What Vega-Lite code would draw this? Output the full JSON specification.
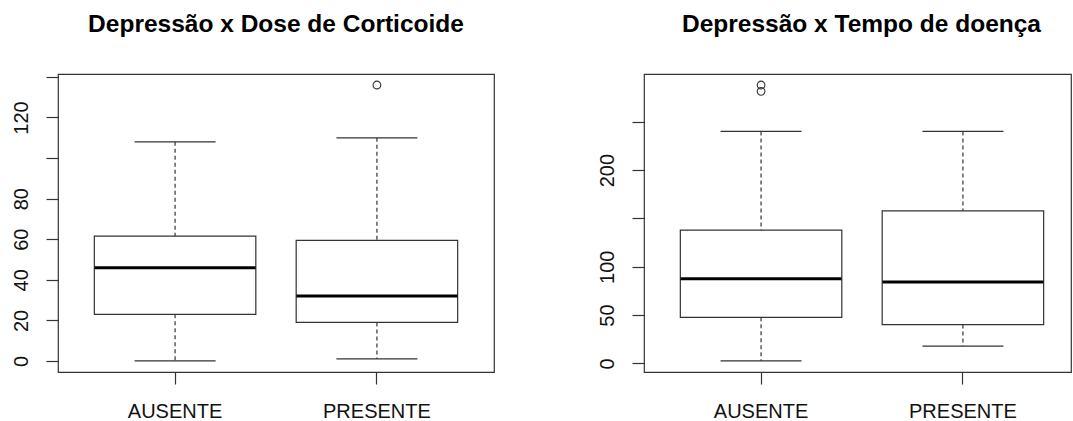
{
  "$schema": "https://vega.github.io/schema/vega-lite/v6.json",
  "padding": {"left": 10, "top": 10, "right": 0, "bottom": 0},
  "background": "white",
  "spacing": 101,
  "config": {
    "font": "Liberation Sans",
    "view": {"stroke": "#333", "strokeWidth": 1.2},
    "axis": {"labelFont": "Liberation Sans", "labelFontSize": 20, "labelColor": "#111", "tickColor": "#333", "tickWidth": 1.2, "grid": false, "domain": false, "title": null},
    "title": {"font": "Liberation Sans", "fontSize": 24.5, "fontWeight": "bold", "color": "#000", "anchor": "middle", "baseline": "alphabetic", "offset": 37}
  },
  "datasets": {
    "dose_boxes": [
      {"grupo": "AUSENTE", "lower": 0, "q1": 23, "median": 46, "q3": 61.5, "upper": 108},
      {"grupo": "PRESENTE", "lower": 1, "q1": 19, "median": 32, "q3": 59.4, "upper": 110}
    ],
    "dose_out": [
      {"grupo": "PRESENTE", "valor": 136}
    ],
    "tempo_boxes": [
      {"grupo": "AUSENTE", "lower": 2.5, "q1": 47.7, "median": 87.6, "q3": 137.8, "upper": 240},
      {"grupo": "PRESENTE", "lower": 17.8, "q1": 40.2, "median": 84.1, "q3": 157.7, "upper": 240}
    ],
    "tempo_out": [
      {"grupo": "AUSENTE", "valor": 288},
      {"grupo": "AUSENTE", "valor": 281.5}
    ]
  },
  "hconcat": [
    {
      "title": "Depressão x Dose de Corticoide",
      "width": 436,
      "height": 298,
      "encoding": {
        "x": {"field": "grupo", "type": "nominal",
          "scale": {"type": "band", "domain": ["AUSENTE", "PRESENTE"], "paddingInner": 0, "paddingOuter": 0.08, "align": 0.5},
          "axis": {"labelAngle": 0, "tickSize": 12, "labelPadding": 17}}
      },
      "layer": [
        {
          "data": {"name": "dose_boxes"},
          "mark": {"type": "rule", "color": "#333", "strokeWidth": 1.2, "strokeDash": [4, 3]},
          "encoding": {
            "y": {"field": "upper", "type": "quantitative",
              "scale": {"domain": [-5.44, 141.44], "nice": false, "zero": false},
              "axis": {"values": [0, 20, 40, 60, 80, 100, 120, 140], "labelExpr": "datum.value == 100 || datum.value == 140 ? '' : datum.label", "labelAngle": -90, "tickSize": 12, "labelPadding": 15}},
            "y2": {"field": "q3"}
          }
        },
        {
          "data": {"name": "dose_boxes"},
          "mark": {"type": "rule", "color": "#333", "strokeWidth": 1.2, "strokeDash": [4, 3]},
          "encoding": {"y": {"field": "q1", "type": "quantitative"}, "y2": {"field": "lower"}}
        },
        {
          "data": {"name": "dose_boxes"},
          "mark": {"type": "tick", "size": 81, "thickness": 1.2, "color": "#333", "opacity": 1, "orient": "horizontal"},
          "encoding": {"y": {"field": "upper", "type": "quantitative"}}
        },
        {
          "data": {"name": "dose_boxes"},
          "mark": {"type": "tick", "size": 81, "thickness": 1.2, "color": "#333", "opacity": 1, "orient": "horizontal"},
          "encoding": {"y": {"field": "lower", "type": "quantitative"}}
        },
        {
          "data": {"name": "dose_boxes"},
          "mark": {"type": "bar", "width": {"band": 0.8}, "fill": "white", "stroke": "#333", "strokeWidth": 1.2},
          "encoding": {"y": {"field": "q1", "type": "quantitative"}, "y2": {"field": "q3"}}
        },
        {
          "data": {"name": "dose_boxes"},
          "mark": {"type": "tick", "size": 161, "thickness": 3, "color": "#000", "opacity": 1, "orient": "horizontal"},
          "encoding": {"y": {"field": "median", "type": "quantitative"}}
        },
        {
          "data": {"name": "dose_out"},
          "mark": {"type": "point", "shape": "circle", "filled": false, "size": 60, "color": "#333", "strokeWidth": 1.1, "opacity": 1},
          "encoding": {"y": {"field": "valor", "type": "quantitative"}}
        }
      ]
    },
    {
      "title": {"text": "Depressão x Tempo de doença", "dx": 4},
      "width": 427,
      "height": 298,
      "encoding": {
        "x": {"field": "grupo", "type": "nominal",
          "scale": {"type": "band", "domain": ["AUSENTE", "PRESENTE"], "paddingInner": 0, "paddingOuter": 0.0577, "align": 0.693},
          "axis": {"labelAngle": 0, "tickSize": 12, "labelPadding": 17}}
      },
      "layer": [
        {
          "data": {"name": "tempo_boxes"},
          "mark": {"type": "rule", "color": "#333", "strokeWidth": 1.2, "strokeDash": [4, 3]},
          "encoding": {
            "y": {"field": "upper", "type": "quantitative",
              "scale": {"domain": [-8.92, 299.42], "nice": false, "zero": false},
              "axis": {"values": [0, 50, 100, 150, 200, 250], "labelExpr": "datum.value == 150 || datum.value == 250 ? '' : datum.label", "labelAngle": -90, "tickSize": 12, "labelPadding": 15}},
            "y2": {"field": "q3"}
          }
        },
        {
          "data": {"name": "tempo_boxes"},
          "mark": {"type": "rule", "color": "#333", "strokeWidth": 1.2, "strokeDash": [4, 3]},
          "encoding": {"y": {"field": "q1", "type": "quantitative"}, "y2": {"field": "lower"}}
        },
        {
          "data": {"name": "tempo_boxes"},
          "mark": {"type": "tick", "size": 81, "thickness": 1.2, "color": "#333", "opacity": 1, "orient": "horizontal"},
          "encoding": {"y": {"field": "upper", "type": "quantitative"}}
        },
        {
          "data": {"name": "tempo_boxes"},
          "mark": {"type": "tick", "size": 81, "thickness": 1.2, "color": "#333", "opacity": 1, "orient": "horizontal"},
          "encoding": {"y": {"field": "lower", "type": "quantitative"}}
        },
        {
          "data": {"name": "tempo_boxes"},
          "mark": {"type": "bar", "width": {"band": 0.8}, "fill": "white", "stroke": "#333", "strokeWidth": 1.2},
          "encoding": {"y": {"field": "q1", "type": "quantitative"}, "y2": {"field": "q3"}}
        },
        {
          "data": {"name": "tempo_boxes"},
          "mark": {"type": "tick", "size": 161, "thickness": 3, "color": "#000", "opacity": 1, "orient": "horizontal"},
          "encoding": {"y": {"field": "median", "type": "quantitative"}}
        },
        {
          "data": {"name": "tempo_out"},
          "mark": {"type": "point", "shape": "circle", "filled": false, "size": 60, "color": "#333", "strokeWidth": 1.1, "opacity": 1},
          "encoding": {"y": {"field": "valor", "type": "quantitative"}}
        }
      ]
    }
  ]
}
